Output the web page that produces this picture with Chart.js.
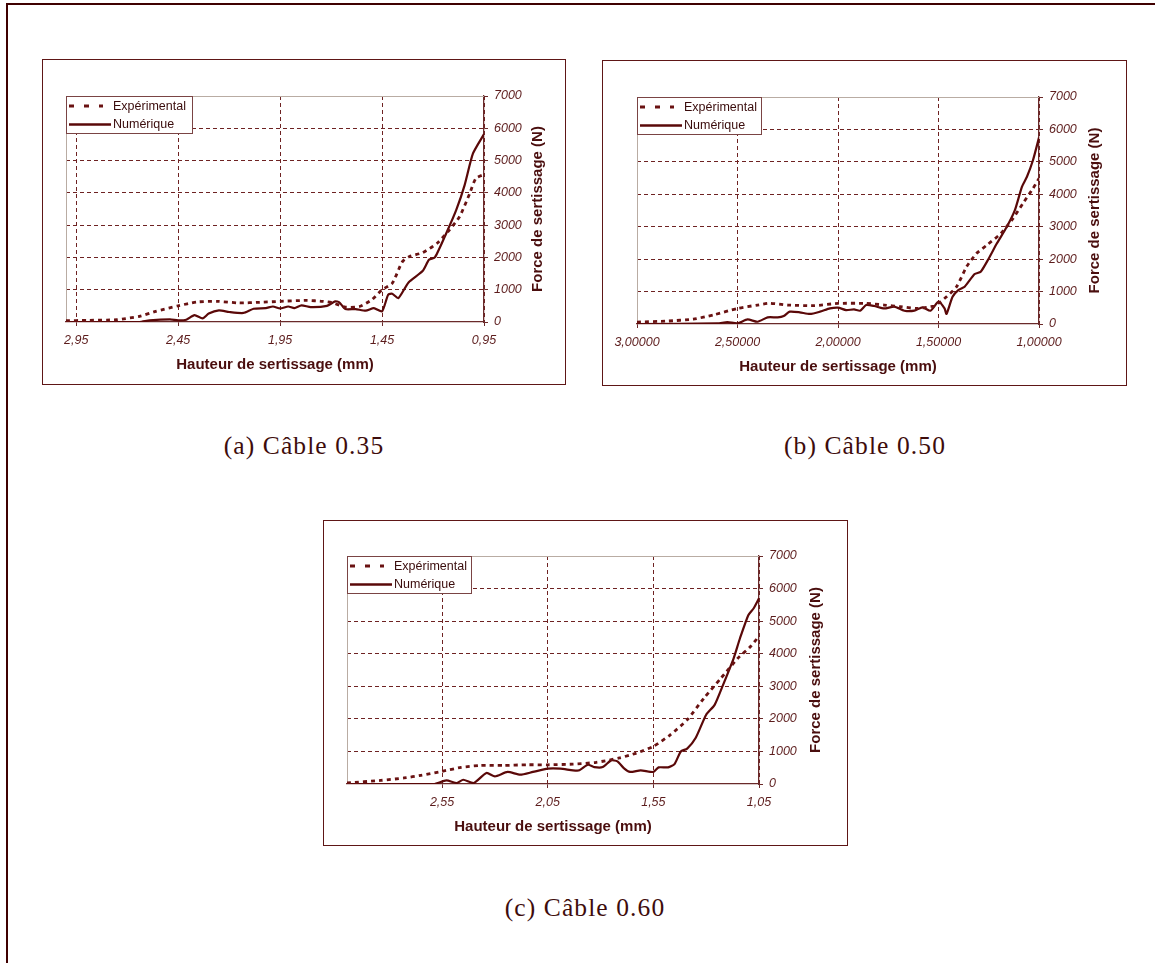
<!DOCTYPE html>
<html><head><meta charset="utf-8">
<script src="https://cdn.jsdelivr.net/npm/chart.js@4/dist/chart.umd.min.js"></script>
<style>
html,body{margin:0;padding:0;background:#fff;}
body{width:1155px;height:963px;position:relative;overflow:hidden;}
.frame{position:absolute;left:6px;top:3px;width:1160px;height:970px;border-top:2px solid #3f0000;border-left:2px solid #3f0000;}
.wrap{position:absolute;}
.wrap canvas{position:absolute;left:0;top:0;}
.box{position:absolute;left:0;top:0;right:0;bottom:0;border:1.5px solid #5e1616;pointer-events:none;}
.cap{position:absolute;font-family:"Liberation Serif","Times New Roman",serif;font-size:25.5px;line-height:26px;color:#3e0c0c;transform:translateX(-50%);white-space:nowrap;letter-spacing:1.1px;}
</style></head>
<body>
<div class="frame"></div>
<div class="wrap" style="left:42px;top:59px;width:524px;height:326px"><canvas id="cA" width="524" height="326"></canvas><div class="box"></div></div>
<div class="wrap" style="left:602px;top:60px;width:525px;height:326px"><canvas id="cB" width="525" height="326"></canvas><div class="box"></div></div>
<div class="wrap" style="left:323px;top:520px;width:525px;height:326px"><canvas id="cC" width="525" height="326"></canvas><div class="box"></div></div>
<div class="cap" style="left:304px;top:433px">(a) Câble 0.35</div>
<div class="cap" style="left:865px;top:433px">(b) Câble 0.50</div>
<div class="cap" style="left:585px;top:895px">(c) Câble 0.60</div>
<script>
// ---------- data ----------
const seriesNames = ['Expérimental', 'Numérique'];
const xTitle = 'Hauteur de sertissage (mm)';
const yTitle = 'Force de sertissage (N)';
const yTicks = [0, 1000, 2000, 3000, 4000, 5000, 6000, 7000];
const yLabels = ['0', '1000', '2000', '3000', '4000', '5000', '6000', '7000'];

// (a) Câble 0.35
const xTicksA = [2.95, 2.45, 1.95, 1.45, 0.95];
const xLabelsA = ['2,95', '2,45', '1,95', '1,45', '0,95'];
const expXA = [3.00,2.90,2.80,2.75,2.64,2.56,2.45,2.36,2.26,2.15,2.05,1.95,1.82,1.74,1.69,1.63,1.56,1.50,1.45,1.40,1.35,1.315,1.25,1.18,1.12,1.07,1.02,0.99,0.95];
const expYA = [40,50,60,70,175,330,500,620,640,590,610,640,670,640,590,460,480,690,1000,1200,1870,2030,2150,2440,2850,3260,3980,4450,4570];
const numXA = [3.00,2.80,2.64,2.59,2.49,2.45,2.41,2.37,2.33,2.30,2.25,2.20,2.13,2.08,2.02,1.985,1.95,1.91,1.88,1.845,1.80,1.72,1.68,1.66,1.63,1.58,1.53,1.49,1.45,1.42,1.40,1.37,1.32,1.25,1.22,1.19,1.135,1.086,1.045,1.004,0.95];
const numYA = [0,0,0,50,80,50,70,215,110,260,360,310,280,410,430,480,420,480,430,515,460,500,640,610,400,400,350,430,330,845,875,740,1225,1585,1925,2010,2750,3470,4240,5220,5820];

// (b) Câble 0.50
const xTicksB = [3.0, 2.5, 2.0, 1.5, 1.0];
const xLabelsB = ['3,00000', '2,50000', '2,00000', '1,50000', '1,00000'];
const expXB = [3.00,2.85,2.72,2.62,2.50,2.40,2.34,2.25,2.12,2.00,1.86,1.77,1.69,1.61,1.52,1.50,1.46,1.41,1.36,1.31,1.26,1.19,1.13,1.08,1.03,1.00];
const expYB = [60,90,150,280,480,585,640,585,565,635,635,585,535,480,555,640,840,1150,1770,2180,2430,2790,3250,3720,4180,4490];
const numXB = [3.00,2.60,2.55,2.50,2.45,2.40,2.35,2.30,2.27,2.24,2.19,2.14,2.09,2.04,2.00,1.96,1.92,1.89,1.86,1.82,1.77,1.72,1.67,1.62,1.58,1.54,1.50,1.47,1.46,1.43,1.40,1.37,1.32,1.29,1.25,1.21,1.16,1.12,1.085,1.06,1.03,1.00];
const numYB = [0,20,60,20,140,70,205,205,245,380,360,310,380,480,505,430,450,410,585,555,480,535,410,410,515,410,690,480,310,840,1050,1150,1540,1610,2020,2480,3000,3510,4230,4540,5050,5750];

// (c) Câble 0.60
const xTicksC = [2.55, 2.05, 1.55, 1.05];
const xLabelsC = ['2,55', '2,05', '1,55', '1,05'];
const expXC = [3.00,2.84,2.73,2.65,2.55,2.46,2.37,2.26,2.15,2.05,1.93,1.82,1.71,1.63,1.55,1.47,1.39,1.31,1.23,1.15,1.09,1.05];
const expYC = [30,110,185,265,390,510,570,570,590,590,610,665,800,950,1155,1510,1970,2640,3250,3860,4220,4540];
const numXC = [3.00,2.59,2.53,2.48,2.45,2.40,2.34,2.30,2.24,2.18,2.12,2.05,1.99,1.93,1.90,1.86,1.83,1.79,1.75,1.72,1.69,1.66,1.61,1.55,1.525,1.48,1.45,1.42,1.39,1.35,1.30,1.26,1.22,1.17,1.14,1.10,1.075,1.05];
const numYC = [0,0,110,30,130,30,340,235,370,285,370,470,470,420,420,590,520,520,725,695,490,370,420,370,510,510,610,1000,1085,1410,2125,2430,3045,3860,4475,5190,5395,5700];

// ---------- drawing ----------
const FAM = '"Liberation Sans", Arial, sans-serif';
Chart.defaults.font.family = FAM;
const zip = (xs, ys) => xs.map((x, i) => ({x: x, y: ys[i]}));

const plotFrame = {
  id: 'plotFrame',
  beforeDatasetsDraw(chart, args, o) {
    const {ctx, chartArea: {left, top, right, bottom}} = chart;
    ctx.save();
    ctx.strokeStyle = o.color; ctx.lineWidth = 1;
    ctx.beginPath();
    ctx.moveTo(Math.round(left) + 0.5, bottom);
    ctx.lineTo(Math.round(left) + 0.5, Math.round(top) + 0.5);
    ctx.lineTo(right, Math.round(top) + 0.5);
    ctx.stroke();
    ctx.restore();
  }
};

// right-hand axis title, read bottom-to-top as in the reference
const rightTitle = {
  id: 'rightTitle',
  afterDraw(chart, args, o) {
    const s = chart.scales.y;
    const {ctx, chartArea: {top, bottom}} = chart;
    ctx.save();
    ctx.translate(s.right - o.offset, (top + bottom) / 2);
    ctx.rotate(-Math.PI / 2);
    ctx.fillStyle = o.color;
    ctx.font = o.font;
    ctx.textAlign = 'center';
    ctx.textBaseline = 'middle';
    ctx.fillText(o.text, 0, 0);
    ctx.restore();
  }
};

const boxLegend = {
  id: 'boxLegend',
  afterDatasetsDraw(chart, args, o) {
    const {ctx, chartArea: {left, top}} = chart;
    const x = Math.round(left), y = Math.round(top);
    ctx.save();
    ctx.fillStyle = '#ffffff';
    ctx.fillRect(x, y, o.width, o.height);
    ctx.strokeStyle = o.borderColor; ctx.lineWidth = 1;
    ctx.strokeRect(x + 0.5, y + 0.5, o.width, o.height);
    chart.data.datasets.forEach((ds, i) => {
      const ry = y + o.rows[i];
      ctx.strokeStyle = ds.borderColor;
      ctx.lineWidth = o.sampleWidth[i];
      ctx.setLineDash(o.sampleDash[i]);
      ctx.beginPath();
      ctx.moveTo(x + o.sampleX0, ry);
      ctx.lineTo(x + o.sampleX1[i], ry);
      ctx.stroke();
      ctx.setLineDash([]);
      ctx.fillStyle = o.textColor;
      ctx.font = o.font;
      ctx.textBaseline = 'middle';
      ctx.textAlign = 'left';
      ctx.fillText(ds.label, x + o.textX, ry + 0.5);
    });
    ctx.restore();
  }
};

const GRID = '#6e2222';
const AXIS = '#6a2a2a';
const TICKTXT = '#5c1c1c';
const TITLE = '#4a0e0e';

function makeChart(id, c) {
  const xMax = 3.0;
  new Chart(document.getElementById(id), {
    type: 'line',
    data: {
      datasets: [
        {label: seriesNames[0], data: zip(c.expX, c.expY), borderColor: '#6a1212', borderWidth: 2.8,
         borderDash: [4, 4], pointRadius: 0, tension: 0.2, fill: false},
        {label: seriesNames[1], data: zip(c.numX, c.numY), borderColor: '#5a0808', borderWidth: 2.2,
         pointRadius: 0, tension: 0.2, fill: false}
      ]
    },
    plugins: [plotFrame, boxLegend, rightTitle],
    options: {
      responsive: false, animation: false, events: [],
      layout: {padding: {left: c.padL, top: c.padT, right: 0, bottom: 0}},
      plugins: {
        legend: {display: false}, tooltip: {enabled: false},
        plotFrame: {color: '#b9aca3'},
        rightTitle: {text: yTitle, offset: c.yTitleOff, color: TITLE, font: 'bold 15px ' + FAM},
        boxLegend: {width: c.legW, height: 37, borderColor: '#7a4444', rows: [10, 28.5],
          sampleX0: 3, sampleX1: [37, 45], sampleWidth: [3, 2.5], sampleDash: [[5, 10], []],
          textX: 47, textColor: '#3a0c0c', font: '12.5px ' + FAM}
      },
      scales: {
        x: {
          type: 'linear', position: 'bottom', reverse: true, min: c.xMin, max: xMax,
          afterBuildTicks: s => { s.ticks = c.xTicks.map(v => ({value: v})); },
          afterFit: s => { s.height = c.bottomH; },
          ticks: {callback: v => c.xLabels[c.xTicks.indexOf(v)], autoSkip: false, maxRotation: 0,
                  font: {size: 12.5, style: 'italic'}, color: TICKTXT, padding: 7},
          grid: {color: ctx => (ctx.tick && Math.abs(ctx.tick.value - xMax) < 1e-9) ? 'rgba(0,0,0,0)' : GRID,
                 lineWidth: 1, drawTicks: true, tickLength: 4, tickColor: AXIS, tickWidth: 1, tickBorderDash: []},
          border: {display: true, color: AXIS, width: 1.3, dash: [4, 3]},
          title: {display: true, text: xTitle, color: TITLE,
                  font: {size: 15, weight: 'bold'}, padding: {top: 0, bottom: c.xTitlePad}}
        },
        y: {
          type: 'linear', position: 'right', min: 0, max: 7000,
          afterBuildTicks: s => { s.ticks = yTicks.map(v => ({value: v})); },
          afterFit: s => { s.width = c.rightW; },
          ticks: {callback: v => yLabels[yTicks.indexOf(v)], font: {size: 12.5, style: 'italic'},
                  color: TICKTXT, padding: 6},
          grid: {color: ctx => (ctx.tick && (ctx.tick.value === 0 || ctx.tick.value === 7000)) ? 'rgba(0,0,0,0)' : GRID,
                 lineWidth: 1, drawTicks: true, tickLength: 4, tickColor: AXIS, tickWidth: 1, tickBorderDash: []},
          border: {display: true, color: AXIS, width: 1.3, dash: [4, 3]},
          title: {display: false}
        }
      }
    }
  });
}

makeChart('cA', {expX: expXA, expY: expYA, numX: numXA, numY: numYA, xTicks: xTicksA, xLabels: xLabelsA,
  xMin: 0.95, padL: 24, padT: 37, rightW: 82, bottomH: 63, yTitleOff: 28, xTitlePad: 11.5, legW: 126});
makeChart('cB', {expX: expXB, expY: expYB, numX: numXB, numY: numYB, xTicks: xTicksB, xLabels: xLabelsB,
  xMin: 1.0, padL: 35, padT: 37, rightW: 88, bottomH: 62, yTitleOff: 32, xTitlePad: 10, legW: 124});
makeChart('cC', {expX: expXC, expY: expYC, numX: numXC, numY: numYC, xTicks: xTicksC, xLabels: xLabelsC,
  xMin: 1.05, padL: 24, padT: 36, rightW: 89, bottomH: 62, yTitleOff: 32, xTitlePad: 10, legW: 124});
</script>
</body></html>
